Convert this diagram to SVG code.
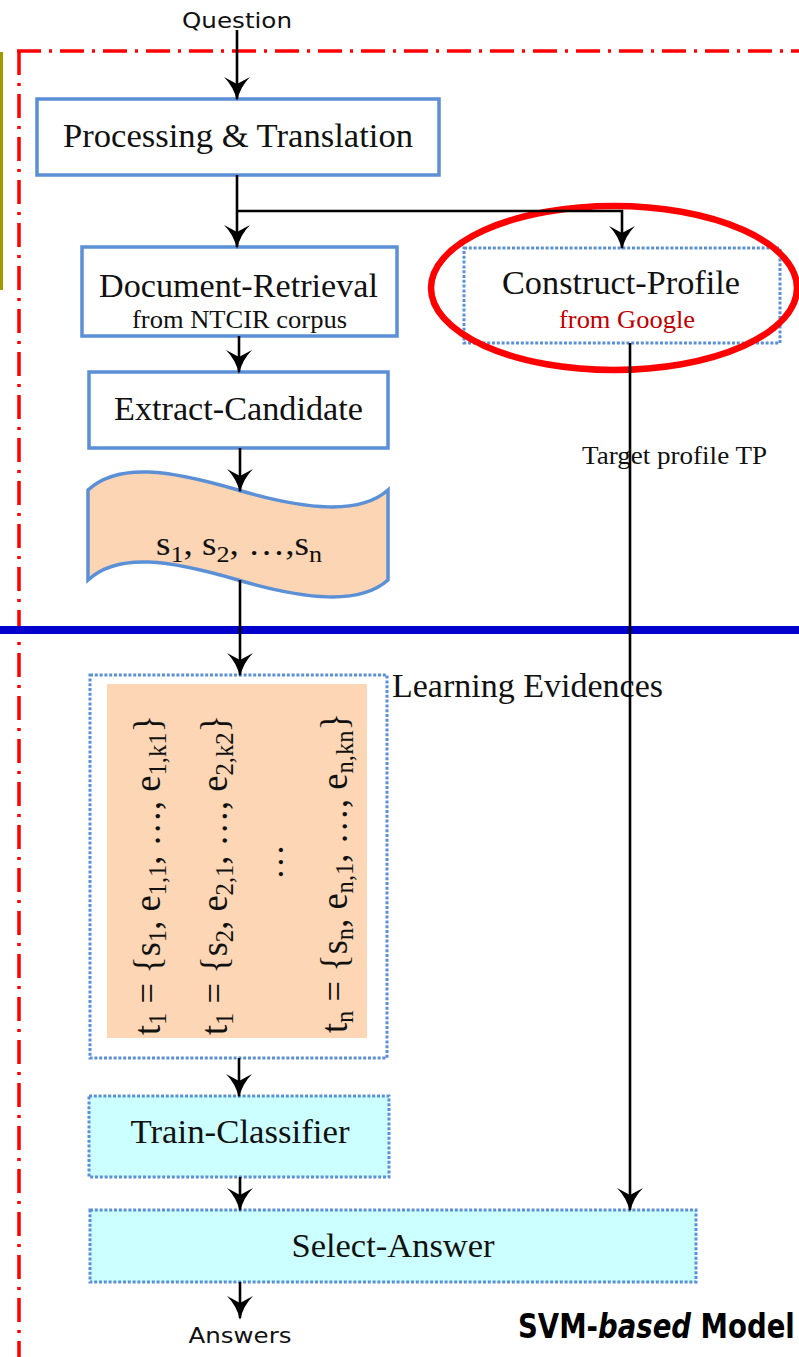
<svg xmlns="http://www.w3.org/2000/svg" width="799" height="1357" viewBox="0 0 799 1357">
<style>
.solid{fill:#fff;stroke:#5B8FD6;stroke-width:3.5}
.dot{stroke:#5B8FD6;stroke-width:3;stroke-dasharray:3 1.8}
.serif{font-family:"Liberation Serif","Times New Roman",serif;fill:#111}
.sans{font-family:"DejaVu Sans","Liberation Sans",sans-serif;fill:#111}
.big{font-size:34px}
.small{font-size:25px}
.bold{font-family:"DejaVu Sans","Liberation Sans",sans-serif;font-weight:bold;font-size:33px;fill:#000}
.conn line,.conn polyline{stroke:#000;stroke-width:2.6;fill:none}
</style>
<defs>
<marker id="ah" markerUnits="userSpaceOnUse" orient="auto" refX="22" refY="0" markerWidth="30" markerHeight="30" overflow="visible">
<path d="M24,0 Q10,-3 0,-13 L7,0 L0,13 Q10,3 24,0 Z" fill="#000"/>
</marker>
</defs>

<g id="frame">
<line x1="1.5" y1="52" x2="1.5" y2="290" stroke="#9C9C00" stroke-width="3"/>
<line x1="17" y1="51" x2="799" y2="51" stroke="#FF0000" stroke-width="3.5" stroke-dasharray="24 8 3 8"/>
<line x1="19" y1="51" x2="19" y2="1357" stroke="#FF0000" stroke-width="3.5" stroke-dasharray="24 8 3 8"/>
<line x1="0" y1="630" x2="799" y2="630" stroke="#0000CC" stroke-width="8"/>
</g>

<g id="question"><text class="sans" x="237" y="28" font-size="22" text-anchor="middle" textLength="110" lengthAdjust="spacingAndGlyphs">Question</text></g>

<g id="processing">
<rect class="solid" x="37" y="99" width="402" height="76"/>
<text class="serif big" x="238" y="147" text-anchor="middle" textLength="350" lengthAdjust="spacingAndGlyphs">Processing &amp; Translation</text>
</g>

<g id="docretrieval">
<rect class="solid" x="82" y="247" width="315" height="89"/>
<text class="serif big" x="238.5" y="297" text-anchor="middle" textLength="279" lengthAdjust="spacingAndGlyphs">Document-Retrieval</text>
<text class="serif small" x="239.5" y="328" text-anchor="middle" textLength="215" lengthAdjust="spacingAndGlyphs">from NTCIR corpus</text>
</g>

<g id="construct">
<rect x="464" y="248" width="316" height="95" fill="#fff" class="dot"/>
<text class="serif big" x="621" y="294" text-anchor="middle" textLength="238" lengthAdjust="spacingAndGlyphs">Construct-Profile</text>
<text class="serif small" x="627" y="328" text-anchor="middle" style="fill:#C00000" textLength="136" lengthAdjust="spacingAndGlyphs">from Google</text>
</g>

<g id="highlight"><ellipse cx="614" cy="288" rx="183" ry="82" fill="none" stroke="#FF0000" stroke-width="6.5"/></g>

<g id="extract">
<rect class="solid" x="89" y="372" width="299" height="76"/>
<text class="serif big" x="238.5" y="420" text-anchor="middle" textLength="249" lengthAdjust="spacingAndGlyphs">Extract-Candidate</text>
</g>

<g id="candidates">
<path d="M88,490 C118,462 170,470 238,490 S360,515 388,490 L388,580 C360,605 306,600 238,580 S118,552 88,580 Z" fill="#FCD5B4" stroke="#5B8FD6" stroke-width="3.5"/>
<text class="serif" font-size="34" x="239" y="555" text-anchor="middle" textLength="166" lengthAdjust="spacingAndGlyphs">s<tspan font-size="24" dy="7">1</tspan><tspan dy="-7">, s</tspan><tspan font-size="24" dy="7">2</tspan><tspan dy="-7">, …,s</tspan><tspan font-size="24" dy="7">n</tspan></text>
</g>

<g id="target-label"><text class="serif" font-size="26" x="582" y="464" textLength="185" lengthAdjust="spacingAndGlyphs">Target profile TP</text></g>

<g id="evidences">
<rect x="90" y="675" width="297" height="383" fill="#fff" class="dot"/>
<rect x="107" y="684" width="260" height="354" fill="#FDD7B5"/>
<text class="serif" font-size="37" transform="translate(160,1035) rotate(-90)" textLength="320" lengthAdjust="spacingAndGlyphs">t<tspan font-size="25" dy="6">1</tspan><tspan dy="-6"> = {s</tspan><tspan font-size="25" dy="6">1</tspan><tspan dy="-6">, e</tspan><tspan font-size="25" dy="6">1,1</tspan><tspan dy="-6">, …, e</tspan><tspan font-size="25" dy="6">1,k1</tspan><tspan dy="-6">}</tspan></text>
<text class="serif" font-size="37" transform="translate(227,1035) rotate(-90)" textLength="320" lengthAdjust="spacingAndGlyphs">t<tspan font-size="25" dy="6">1</tspan><tspan dy="-6"> = {s</tspan><tspan font-size="25" dy="6">2</tspan><tspan dy="-6">, e</tspan><tspan font-size="25" dy="6">2,1</tspan><tspan dy="-6">, …, e</tspan><tspan font-size="25" dy="6">2,k2</tspan><tspan dy="-6">}</tspan></text>
<text class="serif" font-size="36" transform="translate(283,862) rotate(-90)" text-anchor="middle">…</text>
<text class="serif" font-size="37" transform="translate(347,1033) rotate(-90)" textLength="320" lengthAdjust="spacingAndGlyphs">t<tspan font-size="25" dy="6">n</tspan><tspan dy="-6"> = {s</tspan><tspan font-size="25" dy="6">n</tspan><tspan dy="-6">, e</tspan><tspan font-size="25" dy="6">n,1</tspan><tspan dy="-6">, …, e</tspan><tspan font-size="25" dy="6">n,kn</tspan><tspan dy="-6">}</tspan></text>
<text class="serif big" x="392" y="697" textLength="271" lengthAdjust="spacingAndGlyphs">Learning Evidences</text>
</g>

<g id="train">
<rect x="89" y="1096" width="300" height="81" fill="#CCFFFF" class="dot"/>
<text class="serif big" x="240" y="1143" text-anchor="middle" textLength="219" lengthAdjust="spacingAndGlyphs">Train-Classifier</text>
</g>

<g id="select">
<rect x="90" y="1210" width="606" height="72" fill="#CCFFFF" class="dot"/>
<text class="serif big" x="393" y="1257" text-anchor="middle" textLength="203" lengthAdjust="spacingAndGlyphs">Select-Answer</text>
</g>

<g id="answers"><text class="sans" x="240" y="1343" font-size="22" text-anchor="middle" textLength="103" lengthAdjust="spacingAndGlyphs">Answers</text></g>

<g id="model-label">
<text class="bold" transform="translate(518,1338) scale(0.835,1)">SVM-<tspan font-style="italic">based</tspan> Model</text>
</g>

<g class="conn" id="connectors">
<line x1="237" y1="30" x2="237" y2="99" marker-end="url(#ah)"/>
<line x1="237" y1="175" x2="237" y2="247" marker-end="url(#ah)"/>
<polyline points="237,211 622,211 622,248" marker-end="url(#ah)"/>
<line x1="239" y1="336" x2="239" y2="372" marker-end="url(#ah)"/>
<line x1="240" y1="448" x2="240" y2="491" marker-end="url(#ah)"/>
<line x1="240" y1="580" x2="240" y2="675" marker-end="url(#ah)"/>
<line x1="239" y1="1058" x2="239" y2="1096" marker-end="url(#ah)"/>
<line x1="240" y1="1177" x2="240" y2="1210" marker-end="url(#ah)"/>
<line x1="240" y1="1282" x2="240" y2="1318" marker-end="url(#ah)"/>
<line x1="630" y1="343" x2="630" y2="1210" marker-end="url(#ah)"/>
</g>
</svg>
